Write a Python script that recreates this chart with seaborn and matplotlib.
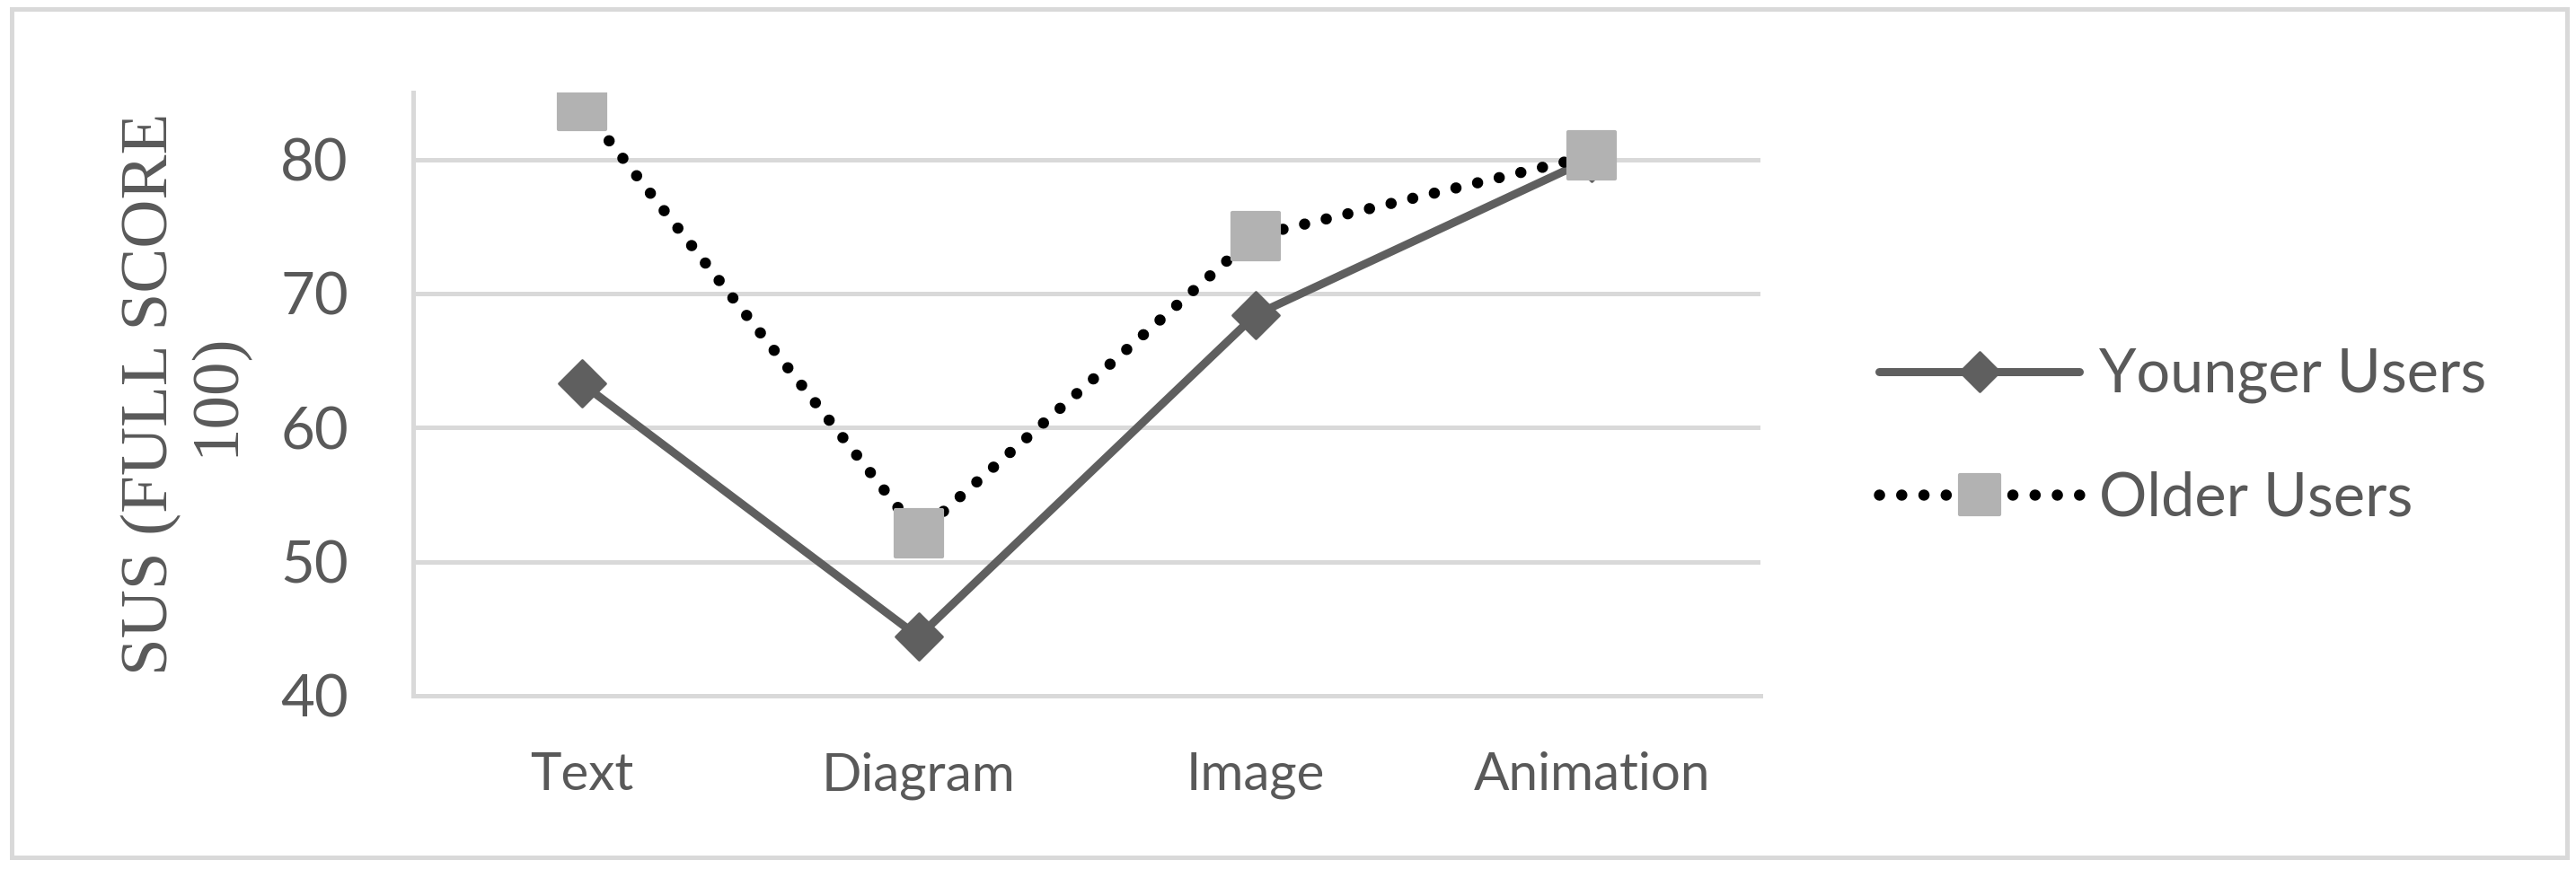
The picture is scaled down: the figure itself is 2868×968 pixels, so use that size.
import matplotlib.pyplot as plt
import pandas as pd
import seaborn as sns
from matplotlib.markers import MarkerStyle
from matplotlib.patches import Rectangle

# 数据
categories = ["Text", "Diagram", "Image", "Animation"]
younger_users = [63.3, 44.4, 68.4, 80.1]
older_users = [84.0, 52.1, 74.3, 80.3]
y_ticks = [40, 50, 60, 70, 80]

df = pd.DataFrame({"Type": categories,
                   "Younger Users": younger_users,
                   "Older Users": older_users})

sns.set_theme(style="white")
plt.rcParams['font.family'] = ['Lato', 'DejaVu Sans']

grey_text = "#595959"
grid_grey = "#d9d9d9"

fig = plt.figure(figsize=(28.68, 9.68), dpi=100)
ax = fig.add_axes([0.1604, 0.1994, 0.523, 0.6942])

# 年轻用户：实线 + 菱形
sns.lineplot(data=df, x="Type", y="Younger Users", ax=ax, sort=False,
             color="#5f5f5f", lw=6.5,
             marker=MarkerStyle("D", joinstyle="round"), markersize=26.5,
             markeredgewidth=2, markerfacecolor="#5f5f5f", markeredgecolor="#5f5f5f",
             label="Younger Users", zorder=3)

# 老年用户：点线 + 方形
sns.lineplot(data=df, x="Type", y="Older Users", ax=ax, sort=False,
             color="black", lw=9, linestyle=(0, (0.01, 1.97)), dash_capstyle="round",
             marker=MarkerStyle("s", joinstyle="round"), markersize=37,
             markeredgewidth=3, markerfacecolor="#b2b2b2", markeredgecolor="#b2b2b2",
             label="Older Users", zorder=4)

ax.set_xlim(-0.5, 3.5)
ax.set_ylim(40, 85)
ax.set_yticks(y_ticks)
ax.yaxis.grid(True, color=grid_grey, lw=3.6)
ax.xaxis.grid(False)
ax.set_axisbelow(True)

for side in ["top", "right"]:
    ax.spines[side].set_visible(False)
for side in ["left", "bottom"]:
    ax.spines[side].set_color(grid_grey)
    ax.spines[side].set_linewidth(3.6)

ax.tick_params(axis="y", length=0, pad=52, labelsize=47, labelcolor=grey_text)
ax.tick_params(axis="x", length=0, pad=45, labelsize=42, labelcolor=grey_text)

ax.set_xlabel("")
ax.set_ylabel("SUS (FULL SCORE\n100)", fontfamily="Liberation Serif", fontsize=54,
              color=grey_text, linespacing=1.1, va="center", ha="center")
ax.yaxis.set_label_coords(-0.17, 0.5)

ax.legend(loc="center left", bbox_to_anchor=(0.7294, 0.4975), bbox_transform=fig.transFigure,
          frameon=False, fontsize=48, handlelength=3.35, handletextpad=0.32,
          labelspacing=1.12, borderpad=0, borderaxespad=0, markerscale=0.85,
          labelcolor=grey_text)

# 外边框
fig.add_artist(Rectangle((0.0045, 0.0134), 0.992, 0.976, transform=fig.transFigure,
                         fill=False, ec=grid_grey, lw=3.6))

fig.savefig("out.png", dpi=100)
